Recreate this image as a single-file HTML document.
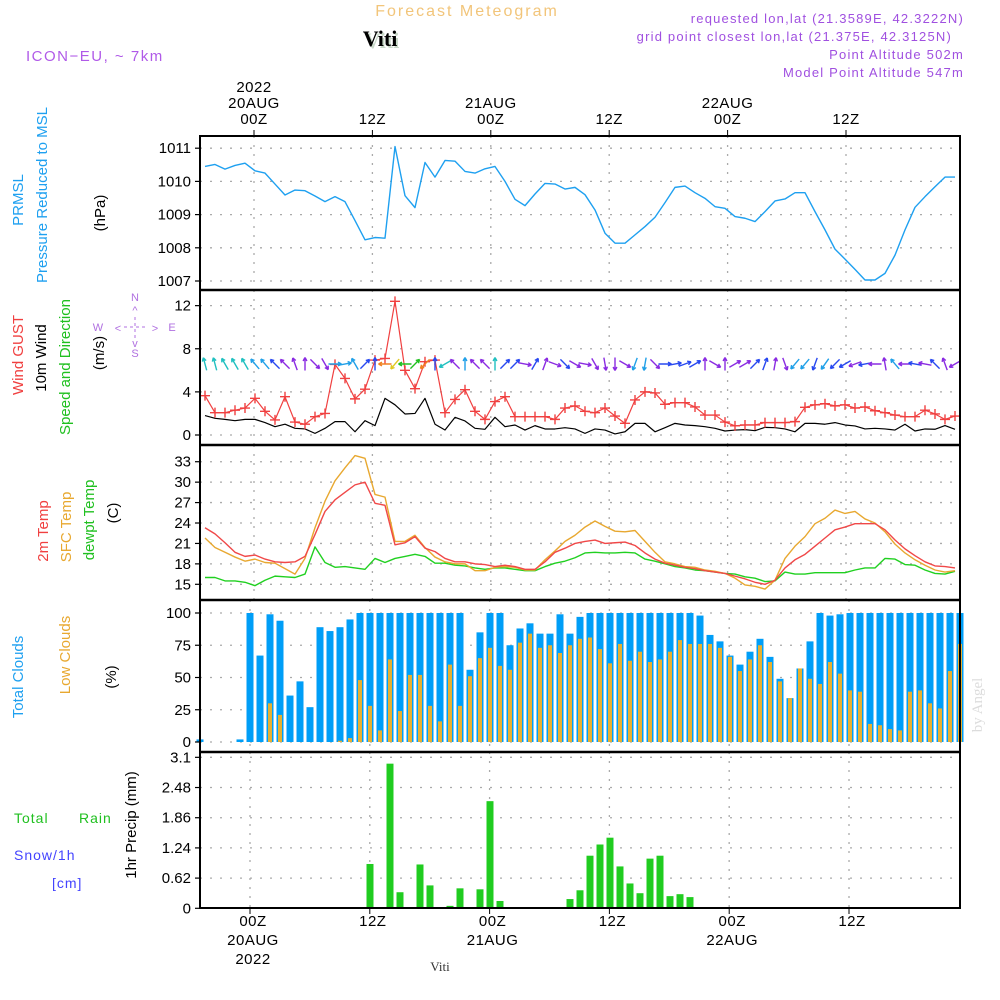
<!DOCTYPE html>
<html><head><meta charset="utf-8"><style>
html,body{margin:0;padding:0;background:#fff;}
svg{display:block;font-family:"Liberation Sans",sans-serif;}
</style></head><body>
<svg id="chart" width="1000" height="1000" viewBox="0 0 1000 1000" xmlns="http://www.w3.org/2000/svg">
<rect x="0" y="0" width="1000" height="1000" fill="#fff"/>
<text x="467" y="16" text-anchor="middle" font-size="16" fill="#f2c57a" letter-spacing="2">Forecast Meteogram</text>
<text x="382" y="48" text-anchor="middle" font-size="22" font-weight="bold" font-family="Liberation Serif,serif" fill="#c8d8c8">Viti</text>
<text x="380" y="46" text-anchor="middle" font-size="22" font-weight="bold" font-family="Liberation Serif,serif" fill="#000">Viti</text>
<text x="26" y="61" font-size="15" fill="#b05ae8" letter-spacing="1.5">ICON−EU, ~ 7km</text>
<g font-size="13" fill="#a050e0" text-anchor="end" letter-spacing="1.2">
<text x="964" y="23">requested lon,lat (21.3589E, 42.3222N)</text>
<text x="952" y="41">grid point closest lon,lat (21.375E, 42.3125N)</text>
<text x="964" y="59">Point Altitude 502m</text>
<text x="964" y="77">Model Point Altitude 547m</text>
</g>
<g id="grid"></g>
<g id="marks"></g>
<g id="frame"></g>
<g id="labels"></g>
<text transform="translate(982,705) rotate(-90)" text-anchor="middle" font-size="15" font-family="Liberation Serif,serif" fill="#dcdcdc">by Angel</text>
<text x="440" y="971" text-anchor="middle" font-size="13" font-family="Liberation Serif,serif" fill="#333">Viti</text>
</svg>
<script>
// ---- data (hourly, from 19Z 19AUG) ----
const pressure=[1010.45,1010.51,1010.37,1010.48,1010.55,1010.32,1010.25,1009.92,1009.59,1009.74,1009.72,1009.56,1009.39,1009.54,1009.39,1008.82,1008.24,1008.31,1008.29,1011.05,1009.57,1009.21,1010.57,1010.13,1010.63,1010.61,1010.30,1010.25,1010.38,1010.45,1010.0,1009.46,1009.27,1009.62,1009.94,1009.92,1009.77,1009.82,1009.6,1009.14,1008.44,1008.14,1008.14,1008.39,1008.64,1008.92,1009.36,1009.82,1009.86,1009.66,1009.49,1009.24,1009.19,1008.94,1008.89,1008.79,1009.09,1009.41,1009.47,1009.66,1009.66,1009.09,1008.54,1007.96,1007.66,1007.35,1007.03,1007.03,1007.23,1007.78,1008.54,1009.22,1009.54,1009.84,1010.13,1010.13];
const gust=[3.65,2.07,2.07,2.3,2.5,3.4,2.2,1.4,3.55,1.2,1.0,1.7,2.0,6.55,5.25,3.35,4.25,6.95,7.1,12.4,6.0,4.3,6.8,6.95,2.07,3.3,4.2,2.2,1.45,3.1,3.55,1.7,1.7,1.7,1.7,1.45,2.5,2.7,2.2,2.07,2.5,1.76,1.08,3.25,4.0,3.9,2.85,3.0,3.0,2.6,1.85,1.85,1.2,0.85,0.93,0.93,1.15,1.15,1.15,1.24,2.57,2.8,2.9,2.7,2.8,2.5,2.6,2.25,2.07,1.85,1.7,1.7,2.3,1.95,1.45,1.76];
const wind=[1.8,1.55,1.45,1.33,1.45,1.45,1.15,0.77,1.0,0.62,0.56,0.15,0.62,1.24,1.24,0.3,1.33,0.87,3.4,2.8,1.95,2.0,3.4,1.0,0.46,1.64,1.3,0.62,0.53,1.64,0.77,0.93,0.46,0.87,0.56,0.56,0.68,0.56,0.15,0.56,0.46,0.1,0.3,1.08,1.08,0.3,0.68,1.08,0.93,0.87,0.77,0.62,0.37,0.46,0.5,0.4,0.71,0.68,0.56,0.3,1.08,1.08,1.0,1.15,0.93,0.84,0.56,0.62,0.56,0.46,1.0,0.37,0.56,0.53,0.87,0.53];
const windDir=[-15,-15,-30,-30,-30,-40,-40,-45,-45,-20,0,135,150,90,80,-30,45,0,270,220,270,45,225,0,240,-45,0,-45,-45,0,45,45,100,30,20,110,135,120,100,150,170,180,120,200,190,135,90,80,70,60,0,120,0,60,60,45,20,10,160,220,220,200,215,225,240,250,260,270,-10,-40,270,280,280,-45,-20,240];
const windCol=["c","c","c","c","c","s","s","b","p","p","p","p","p","s","s","s","b","b","o","y","g","g","o","b","c","p","s","p","p","c","b","b","p","b","p","p","b","p","p","p","p","p","p","s","s","p","b","b","b","b","p","p","p","p","p","b","b","p","p","s","s","b","s","b","b","p","b","p","p","s","p","b","p","b","p","p"];
const temp2m=[23.3,22.4,21.1,19.7,19.1,19.3,18.7,18.3,18.2,18.3,19.1,22.3,25.7,27.4,28.5,29.6,30.0,26.9,26.6,20.8,21.1,22.0,20.3,19.8,18.8,18.3,18.3,18.0,17.9,17.6,17.8,17.6,17.2,17.2,18.3,19.7,20.3,21.0,21.3,21.5,21.0,21.1,21.2,20.7,19.6,18.7,18.1,17.8,17.5,17.3,17.0,16.8,16.6,16.2,15.8,15.3,15.0,15.6,17.4,18.6,19.4,20.6,21.8,23.0,23.4,23.9,23.9,23.9,23.0,21.5,20.2,19.2,18.3,17.7,17.6,17.4];
const tempSfc=[21.8,20.4,19.7,19.0,18.4,18.7,18.2,18.1,17.3,16.5,18.8,23.3,27.2,30.2,32.1,33.9,33.5,28.2,27.8,21.3,21.3,22.2,20.4,19.0,18.3,18.0,18.0,17.0,17.0,17.5,17.6,17.5,17.1,17.1,18.6,19.9,21.3,22.2,23.4,24.3,23.5,22.8,22.7,22.9,21.3,19.7,18.3,18.0,17.6,17.5,17.1,16.9,16.6,15.9,14.9,14.7,14.3,15.6,18.8,20.6,22.0,23.9,24.7,25.9,25.4,25.7,24.6,24.0,22.7,20.9,19.6,18.6,17.8,17.1,16.8,17.0];
const dewpt=[16.0,16.0,15.5,15.5,15.3,14.8,15.6,16.2,16.1,16.0,16.5,20.5,18.2,17.5,17.6,17.4,17.2,18.8,18.2,18.8,19.1,19.4,19.1,18.1,18.1,17.8,17.7,17.4,17.2,17.4,17.4,17.2,17.0,17.0,17.6,18.1,18.4,18.9,19.6,19.7,19.6,19.6,19.7,19.6,18.7,18.4,18.0,17.6,17.4,17.1,17.0,16.8,16.6,16.5,16.1,15.9,15.4,15.5,16.8,16.5,16.5,16.7,16.7,16.7,16.7,17.1,17.4,17.4,18.8,18.7,17.9,17.8,17.1,16.6,16.5,16.9];
const totalCloud=[2,0,0,0,2,100,67,99,94,36,47,27,89,86,89,95,100,100,100,100,100,100,100,100,100,100,100,56,85,100,100,75,88,92,84,84,99,84,97,100,100,100,100,100,100,100,100,100,100,100,98,83,78,67,60,70,80,66,49,34,57,78,100,98,99,100,100,100,100,100,100,100,100,100,100,100,100];
const lowCloud=[0,0,0,0,0,0,0,30,21,0,0,0,0,0,1,3,48,28,9,64,24,52,52,28,16,60,28,51,65,73,59,56,77,84,73,75,69,75,80,81,72,61,76,63,70,62,64,70,79,76,76,76,73,66,55,64,75,62,47,34,57,49,45,62,53,40,39,14,13,10,9,39,40,30,26,55,76];
const precip=[0,0,0,0,0,0,0,0,0,0,0,0,0,0,0,0,0,0.91,0,2.97,0.33,0,0.90,0.47,0,0.05,0.41,0,0.39,2.20,0.15,0,0,0,0,0,0,0.19,0.37,1.08,1.31,1.45,0.86,0.51,0.31,1.02,1.08,0.25,0.29,0.23,0,0,0,0,0,0,0,0,0,0,0,0,0,0,0,0,0,0,0,0,0,0,0,0,0,0,0];
const pTicks=[1007,1008,1009,1010,1011];
const wTicks=[0,4,8,12];
const tTicks=[15,18,21,24,27,30,33];
const cTicks=[0,25,50,75,100];
const rTicks=[0,0.62,1.24,1.86,2.48,3.1];
const timeLabelsTop=[["2022","20AUG","00Z"],["","","12Z"],["","21AUG","00Z"],["","","12Z"],["","22AUG","00Z"],["","","12Z"]];
const timeLabelsBot=[["00Z","20AUG","2022"],["12Z","",""],["00Z","21AUG",""],["12Z","",""],["00Z","22AUG",""],["12Z","",""]];

// ---- axes ----
const X0=200,X1=960;
const xL=i=>205+10*i;
const xB=i=>200+10*i;
const gTop=k=>254+118.4*k;
const gBot=k=>250+119.8*k;
const yP=v=>281-(v-1007)*33.2;
const yW=v=>435-v*10.78;
const yT=v=>584.3-(v-15)*6.81;
const yC=v=>742-v*1.29;
const yR=v=>908.3-v*48.7;
const NS='http://www.w3.org/2000/svg';
function mk(tag,attrs,parent){const e=document.createElementNS(NS,tag);for(const k in attrs)e.setAttribute(k,attrs[k]);parent.appendChild(e);return e;}
const grid=document.getElementById('grid'),marks=document.getElementById('marks'),frame=document.getElementById('frame'),labels=document.getElementById('labels');
const panels=[{t:136,b:290,ticks:pTicks,y:yP,top:true,name:'pressure'},{t:290,b:445,ticks:wTicks,y:yW,top:true,name:'wind'},{t:445,b:600,ticks:tTicks,y:yT,top:true,name:'temp'},{t:600,b:752,ticks:cTicks,y:yC,top:false,name:'clouds'},{t:752,b:908,ticks:rTicks,y:yR,top:false,name:'precip'}];
panels.forEach(p=>{
  p.ticks.forEach(v=>{
    const yy=p.y(v);
    const gl=mk('line',{x1:X0,x2:X1,y1:yy,y2:yy,stroke:'#aaa','stroke-width':1.3,'stroke-dasharray':'2 8'},grid);
    
    
    mk('line',{x1:X0-5,x2:X0,y1:yy,y2:yy,stroke:'#000','stroke-width':1.2},frame);
    const t=mk('text',{x:X0-9,y:yy+5,'text-anchor':'end','font-size':15,fill:'#000'},labels);
    t.textContent=String(v);
    
    
  });
  for(let k=0;k<6;k++){
    const gx=p.top?gTop(k):gBot(k);
    const vl=mk('line',{x1:gx,x2:gx,y1:p.t,y2:p.b,stroke:'#aaa','stroke-width':1.3,'stroke-dasharray':'2 7'},grid);
    
    
  }
});
const fr=mk('rect',{x:X0,y:136,width:X1-X0,height:908-136,fill:'none',stroke:'#000','stroke-width':2},frame);


[290,445,600,752].forEach(yy=>mk('line',{x1:X0,x2:X1,y1:yy,y2:yy,stroke:'#000','stroke-width':2.5},frame));
for(let k=0;k<6;k++){
  const gx=gTop(k);
  mk('line',{x1:gx,x2:gx,y1:130,y2:136,stroke:'#000'},frame);
  timeLabelsTop[k].forEach((s,j)=>{if(!s)return;const t=mk('text',{x:gx,y:92+j*16,'text-anchor':'middle','font-size':15,fill:'#000','letter-spacing':0.5},labels);t.textContent=s;
    
    });
  const bx=gBot(k)+3;
  mk('line',{x1:bx-3,x2:bx-3,y1:908,y2:914,stroke:'#000'},frame);
  timeLabelsBot[k].forEach((s,j)=>{if(!s)return;const t=mk('text',{x:bx,y:926+j*19,'text-anchor':'middle','font-size':15,fill:'#000','letter-spacing':0.5},labels);t.textContent=s;
    
    });
}
// ---- marks ----
function poly(arr,yf,color,name,w){
  const pts=arr.map((v,i)=>xL(i)+','+yf(v)).join(' ');
  const e=mk('polyline',{points:pts,fill:'none',stroke:color,'stroke-width':w||1.4,'stroke-linejoin':'round'},marks);
  
  
}
poly(pressure,yP,'#1ea0f0','pressure-line');
totalCloud.forEach((v,i)=>{const yy=yC(v);const r=mk('rect',{x:xB(i)-3.5,y:yy,width:7,height:742-yy,fill:'#009ef7'},marks);
  
  });
lowCloud.forEach((v,i)=>{if(v<=0)return;const yy=yC(v);const r=mk('rect',{x:xB(i)-2,y:yy,width:4,height:742-yy,fill:'#e8b030'},marks);
  
  });
precip.forEach((v,i)=>{if(v<=0)return;const yy=yR(v);const r=mk('rect',{x:xB(i)-3.5,y:yy,width:7,height:908.3-yy,fill:'#20cc20'},marks);
  
  });
mk('line',{x1:X0,x2:X1,y1:908,y2:908,stroke:'#000','stroke-width':2},marks);
poly(wind,yW,'#000','wind-speed-line',1.2);
poly(gust,yW,'#f04040','wind-gust-line',1.2);
gust.forEach((v,i)=>{const x=xL(i),y=yW(v);const g=mk('path',{d:`M${x-5},${y}H${x+5}M${x},${y-5}V${y+5}`,stroke:'#f04040','stroke-width':1.4},marks);
  
  });
const colMap={c:'#20c0c0',s:'#20a0e8',b:'#2848f0',p:'#8a2be2',g:'#20c020',y:'#e0c820',o:'#f08020'};
windDir.forEach((a,i)=>{
  const r=a*Math.PI/180,L=6.5,dx=Math.sin(r)*L,dy=-Math.cos(r)*L,cx=xL(i),cy=364;
  const tx=cx+dx,ty=cy+dy,h=4,ang=Math.atan2(dy,dx);
  const d=`M${cx-dx},${cy-dy}L${tx},${ty}M${tx},${ty}L${tx-h*Math.cos(ang-0.5)},${ty-h*Math.sin(ang-0.5)}M${tx},${ty}L${tx-h*Math.cos(ang+0.5)},${ty-h*Math.sin(ang+0.5)}`;
  const e=mk('path',{d:d,stroke:colMap[windCol[i]],'stroke-width':1.4,fill:'none'},marks);
  
  
});
poly(dewpt,yT,'#20d020','dewpoint-line');
poly(tempSfc,yT,'#e8a830','sfc-temp-line');
poly(temp2m,yT,'#f04848','temp-2m-line');
// ---- left titles ----
function vtext(x,y,s,color,name,size){const t=mk('text',{transform:`translate(${x},${y}) rotate(-90)`,'text-anchor':'middle','font-size':size||15,fill:color},labels);t.textContent=s;
  
  }
vtext(23,200,'PRMSL','#1ea0f0','prmsl-title');
vtext(47,195,'Pressure Reduced to MSL','#1ea0f0','pressure-title');
vtext(105,213,'(hPa)','#000','pressure-unit');
vtext(23,355,'Wind GUST','#f04040','gust-title');
vtext(46,358,'10m Wind','#000','wind-title');
vtext(70,367,'Speed and Direction','#20c020','wind-direction-title');
vtext(104,353,'(m/s)','#000','wind-unit');
vtext(48,531,'2m Temp','#f04040','temp-title');
vtext(71,527,'SFC Temp','#e8a830','sfc-temp-title');
vtext(94,520,'dewpt Temp','#20c020','dewpt-title');
vtext(118,513,'(C)','#000','temp-unit');
vtext(23,677,'Total Clouds','#1ea0f0','total-cloud-title');
vtext(70,655,'Low Clouds','#e8a830','low-cloud-title');
vtext(116,677,'(%)','#000','cloud-unit');
vtext(136,825,'1hr Precip (mm)','#000','precip-title');
[['Total','#20c020',14,823,'rain-label'],['Rain','#20c020',79,823,'rain-label-2'],['Snow/1h','#4444ff',14,860,'snow-label'],['[cm]','#4444ff',52,888,'snow-unit']].forEach(a=>{const t=mk('text',{x:a[2],y:a[3],'font-size':14,fill:a[1],'letter-spacing':1},labels);t.textContent=a[0];
  
  });
const cg=mk('g',{fill:'#b070e0','font-size':11,stroke:'none'},labels);


[['N',135,301],['S',135,357],['W',98,331],['E',172,331],['^',135,314],['v',135,347],['<',118,332],['>',155,332]].forEach(a=>{const t=mk('text',{x:a[1],y:a[2],'text-anchor':'middle'},cg);t.textContent=a[0];});
mk('path',{d:'M124,327H148M135,317V341',stroke:'#b070e0','stroke-dasharray':'3 3','stroke-width':1},cg);
</script>
</body></html>
